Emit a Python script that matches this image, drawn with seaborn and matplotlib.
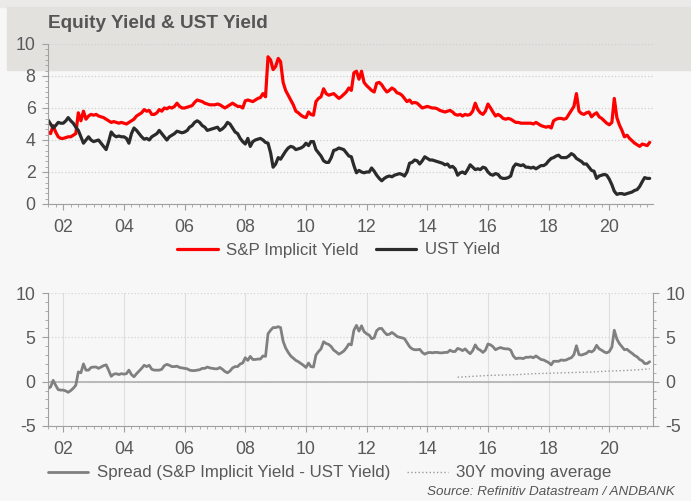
import pandas as pd
import matplotlib.pyplot as plt
import matplotlib.dates as mdates
from matplotlib.ticker import MultipleLocator
from matplotlib.patches import Rectangle
import seaborn as sns

# Monthly readings, Jul 2001 .. May 2021
sp_yield = [
    4.5, 4.4, 4.9, 4.5, 4.2, 4.1,                                   # 2001 H2
    4.1, 4.15, 4.2, 4.2, 4.3, 4.4, 5.7, 5.2, 5.8, 5.3, 5.5, 5.6,    # 2002
    5.55, 5.6, 5.5, 5.45, 5.4, 5.3, 5.2, 5.1, 5.15, 5.1, 5.05, 5.1, # 2003
    5.05, 5.0, 5.1, 5.2, 5.3, 5.5, 5.6, 5.7, 5.9, 5.8, 5.85, 5.6,   # 2004
    5.6, 5.7, 5.9, 5.8, 6.0, 5.95, 6.05, 6.0, 6.1, 6.3, 6.1, 6.0,   # 2005
    6.0, 6.05, 6.1, 6.15, 6.35, 6.5, 6.45, 6.4, 6.3, 6.25, 6.2, 6.2, # 2006
    6.2, 6.25, 6.2, 6.1, 6.0, 6.1, 6.2, 6.3, 6.2, 6.1, 6.1, 6.0,    # 2007
    6.45, 6.5, 6.45, 6.4, 6.5, 6.6, 6.65, 6.9, 6.7, 9.2, 9.0, 8.4,  # 2008
    8.6, 9.1, 8.9, 7.6, 7.1, 6.8, 6.5, 6.2, 5.8, 5.7, 5.55, 5.45,   # 2009
    5.4, 5.75, 5.6, 5.55, 6.4, 6.6, 6.7, 7.2, 6.9, 6.8, 6.85, 6.9,  # 2010
    6.75, 6.6, 6.7, 6.85, 7.0, 7.25, 7.1, 8.2, 8.3, 7.8, 8.3, 7.6,  # 2011
    7.4, 7.25, 7.1, 7.0, 7.55, 7.6, 7.45, 7.2, 7.0, 7.1, 7.25, 7.15, # 2012
    6.95, 6.9, 6.8, 6.6, 6.4, 6.5, 6.3, 6.35, 6.3, 6.15, 6.0, 6.05, # 2013
    6.1, 6.05, 6.0, 6.0, 5.95, 5.85, 5.8, 5.75, 5.8, 5.85, 5.75, 5.6, # 2014
    5.55, 5.6, 5.5, 5.6, 5.55, 5.6, 5.8, 6.3, 5.9, 5.7, 5.6, 5.8,   # 2015
    6.25, 6.0, 5.75, 5.5, 5.6, 5.5, 5.35, 5.3, 5.35, 5.3, 5.2, 5.1, # 2016
    5.1, 5.05, 5.05, 5.05, 5.05, 5.05, 5.0, 5.1, 5.0, 4.9, 4.85, 4.8, # 2017
    4.85, 4.75, 5.2, 5.3, 5.35, 5.35, 5.3, 5.35, 5.6, 5.85, 6.1, 6.9, # 2018
    5.8, 5.65, 5.6, 5.7, 5.75, 5.45, 5.6, 5.7, 5.45, 5.35, 5.2, 5.05, # 2019
    4.95, 5.1, 6.6, 5.4, 4.95, 4.6, 4.2, 4.3, 4.1, 3.95, 3.8, 3.7,  # 2020
    3.6, 3.75, 3.7, 3.65, 3.85,                                     # 2021
]
ust_yield = [
    5.25, 5.0, 4.75, 4.9, 5.1, 5.05,
    5.05, 5.2, 5.4, 5.2, 5.05, 4.8, 4.6, 4.2, 3.8, 4.0, 4.2, 4.0,
    3.9, 3.95, 4.0, 3.8, 3.6, 3.4, 3.9, 4.5, 4.3, 4.2, 4.25, 4.2,
    4.2, 4.1, 3.8, 4.4, 4.75, 4.6, 4.4, 4.2, 4.05, 4.1, 4.0, 4.2,
    4.3, 4.4, 4.6, 4.4, 4.2, 4.0, 4.2, 4.3, 4.4, 4.55, 4.5, 4.45,
    4.5, 4.6, 4.8, 4.9, 5.1, 5.2, 5.1, 4.9, 4.8, 4.6, 4.65, 4.7,
    4.75, 4.8, 4.6, 4.7, 4.85, 5.1, 5.0, 4.75, 4.5, 4.4, 4.1, 3.9,
    3.75, 4.1, 3.6, 3.9, 4.0, 4.05, 4.1, 4.0, 3.85, 3.8, 3.2, 2.3,
    2.5, 2.9, 2.8, 3.05, 3.3, 3.5, 3.6, 3.55, 3.4, 3.45, 3.5, 3.6,
    3.8, 3.65, 3.9, 3.9, 3.4, 3.2, 3.0, 2.7, 2.6, 2.6, 2.9, 3.35,
    3.4, 3.5, 3.45, 3.4, 3.2, 3.0, 2.95, 2.4, 1.95, 2.1, 2.0, 1.95,
    2.0, 2.0, 2.25, 2.05, 1.8, 1.6, 1.45, 1.6, 1.7, 1.75, 1.7, 1.8,
    1.85, 1.9, 1.85, 1.75, 2.0, 2.55, 2.6, 2.75, 2.7, 2.5, 2.7, 2.95,
    2.85, 2.75, 2.75, 2.7, 2.65, 2.6, 2.55, 2.45, 2.5, 2.3, 2.35, 2.2,
    1.8, 1.95, 2.0, 1.9, 2.15, 2.45, 2.3, 2.15, 2.2, 2.15, 2.3, 2.25,
    2.0, 1.85, 1.8, 1.9, 1.85, 1.65, 1.6, 1.6, 1.65, 1.75, 2.3, 2.5,
    2.45, 2.4, 2.45, 2.3, 2.3, 2.25, 2.3, 2.2, 2.3, 2.4, 2.4, 2.5,
    2.7, 2.85, 2.9, 3.0, 3.05, 2.9, 2.9, 2.9, 3.0, 3.15, 3.05, 2.85,
    2.75, 2.65, 2.5, 2.5, 2.3, 2.1, 2.05, 1.6, 1.75, 1.8, 1.85, 1.8,
    1.55, 1.2, 0.8, 0.6, 0.65, 0.65, 0.6, 0.65, 0.7, 0.75, 0.85, 0.9,
    1.1, 1.4, 1.65, 1.6, 1.6,
]
ma_dates = ["2015-01-01", "2015-07-01", "2016-01-01", "2016-07-01", "2017-01-01",
            "2017-07-01", "2018-01-01", "2018-07-01", "2019-01-01", "2019-07-01",
            "2020-01-01", "2020-07-01", "2021-01-01", "2021-05-01"]
ma_30y = [0.5, 0.6, 0.7, 0.75, 0.8, 0.9, 0.95, 1.0, 1.05, 1.1, 1.2, 1.25, 1.35, 1.45]

df = pd.DataFrame({
    "date": pd.date_range("2001-07-01", periods=len(sp_yield), freq="MS"),
    "sp": sp_yield,
    "ust": ust_yield,
})
df["spread"] = df["sp"] - df["ust"]
ma = pd.DataFrame({"date": pd.to_datetime(ma_dates), "ma": ma_30y})

sns.set_style("white")
plt.rcParams["font.family"] = ["Liberation Sans", "DejaVu Sans"]
plt.rcParams["axes.unicode_minus"] = False

txt = "#595959"
spine = "#a0a0a0"
fig = plt.figure(figsize=(6.91, 5.01), dpi=100, facecolor="#f7f7f7")

# header band, kept behind the axes
fig.patches.append(Rectangle((0, 1 - 7 / 501), 1, 7 / 501, transform=fig.transFigure,
                             color="#ebeae8", zorder=-10))
fig.patches.append(Rectangle((7 / 691, 1 - 70 / 501), 1, 63 / 501, transform=fig.transFigure,
                             color="#e3e1de", zorder=-10))
fig.text(48 / 691, 1 - 28 / 501, "Equity Yield & UST Yield", fontsize=13.7,
         fontweight="bold", color="#555555", va="baseline")

xlim = (pd.Timestamp("2001-07-01"), pd.Timestamp("2021-06-10"))

def style_x(ax):
    ax.set_xlim(*xlim)
    ax.xaxis.set_major_locator(mdates.YearLocator(2))
    ax.xaxis.set_major_formatter(mdates.DateFormatter("%y"))
    ax.xaxis.set_minor_locator(mdates.MonthLocator(bymonth=[1, 4, 7, 10]))
    ax.tick_params(axis="x", which="major", length=4, color=spine, labelsize=12.8,
                   labelcolor=txt, pad=7, bottom=True)
    ax.tick_params(axis="x", which="minor", length=2.5, color=spine, bottom=True)
    ax.set_xlabel("")
    ax.set_ylabel("")
    ax.set_facecolor("none")

# top panel
ax1 = fig.add_axes([48 / 691, 1 - 204 / 501, 605 / 691, 160 / 501])
sns.lineplot(data=df, x="date", y="sp", ax=ax1, color="#ff0000", lw=2.3, label="S&P Implicit Yield")
sns.lineplot(data=df, x="date", y="ust", ax=ax1, color="#2b2b2b", lw=2.3, label="UST Yield")
style_x(ax1)
ax1.set_ylim(0, 10)
ax1.yaxis.set_major_locator(MultipleLocator(2))
ax1.yaxis.set_minor_locator(MultipleLocator(1 / 3))
ax1.tick_params(axis="y", which="major", length=4, color=spine, labelsize=12.8,
                labelcolor=txt, left=True, pad=5)
ax1.tick_params(axis="y", which="minor", length=2, color=spine, left=True)
ax1.grid(axis="y", color="#cfcfcf", ls=":", lw=0.9)
for s in ["top", "right"]:
    ax1.spines[s].set_visible(False)
for s in ["left", "bottom"]:
    ax1.spines[s].set_color(spine)
ax1.legend(loc="center", bbox_to_anchor=(0.49, 1 - 250 / 501), bbox_transform=fig.transFigure,
           ncol=2, frameon=False, fontsize=12.2, handlelength=2.4, handletextpad=0.5,
           columnspacing=1.0, labelcolor=txt)

# bottom panel
ax2 = fig.add_axes([48 / 691, 1 - 426 / 501, 605 / 691, 133 / 501])
ax2.axhline(0, color="#b0b0b0", lw=1.2, zorder=1)
sns.lineplot(data=df, x="date", y="spread", ax=ax2, color="#808080", lw=2.0,
             label="Spread (S&P Implicit Yield - UST Yield)")
sns.lineplot(data=ma, x="date", y="ma", ax=ax2, color="#9a9a9a", lw=1.0, ls=":",
             label="30Y moving average")
style_x(ax2)
ax2.set_ylim(-5, 10)
ax2.yaxis.set_major_locator(MultipleLocator(5))
ax2.yaxis.set_minor_locator(MultipleLocator(1))
ax2.tick_params(axis="y", which="major", length=4, color=spine, labelsize=12.8,
                labelcolor=txt, left=True, right=True, labelright=True, pad=5)
ax2.tick_params(axis="y", which="minor", length=2, color=spine, left=True, right=True)
ax2.grid(axis="x", color="#dedede", lw=0.8)
ax2.grid(axis="y", color="#d5d5d5", ls=":", lw=0.9)
ax2.spines["top"].set_visible(False)
for s in ["left", "right", "bottom"]:
    ax2.spines[s].set_color(spine)
ax2.legend(loc="center", bbox_to_anchor=(0.477, 1 - 473 / 501), bbox_transform=fig.transFigure,
           ncol=2, frameon=False, fontsize=12.2, handlelength=2.4, handletextpad=0.5,
           columnspacing=1.0, labelcolor=txt)

fig.text(675 / 691, 1 - 495 / 501, "Source: Refinitiv Datastream / ANDBANK", fontsize=9.7,
         style="italic", color="#555555", ha="right", va="baseline")

fig.savefig("out.png", dpi=100, facecolor=fig.get_facecolor())
